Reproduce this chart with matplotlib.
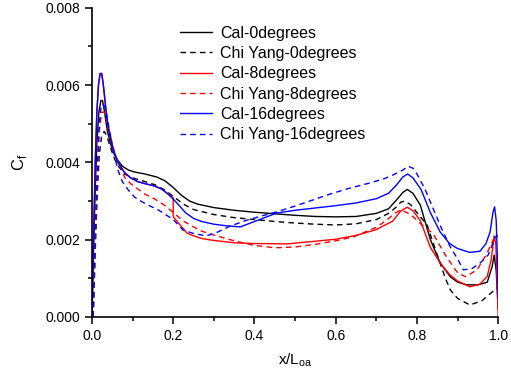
import matplotlib.pyplot as plt
from matplotlib.ticker import MultipleLocator, FormatStrFormatter

# skin friction along the hull, computed vs. Chi Yang reference
x_cal0 = [0, 0.004, 0.008, 0.012, 0.017, 0.022, 0.026, 0.031, 0.038, 0.048, 0.06, 0.075,
          0.09, 0.105, 0.13, 0.16, 0.18, 0.2, 0.22, 0.24, 0.26, 0.3, 0.35, 0.4, 0.45, 0.5,
          0.55, 0.6, 0.65, 0.7, 0.73, 0.75, 0.765, 0.776, 0.79, 0.808, 0.833, 0.857, 0.882,
          0.9, 0.923, 0.95, 0.973, 0.985, 0.99, 0.995, 1.0]
cf_cal0 = [0, 0.0018, 0.0033, 0.0045, 0.0053, 0.0056, 0.0056, 0.0053, 0.0048, 0.0044, 0.0041,
           0.0039, 0.0038, 0.00375, 0.0037, 0.00362, 0.00352, 0.00335, 0.00315, 0.003, 0.00292,
           0.00283, 0.00276, 0.00271, 0.00267, 0.00263, 0.0026, 0.00259, 0.0026, 0.00268,
           0.0028, 0.00303, 0.00322, 0.0033, 0.0032, 0.0029, 0.002, 0.0014, 0.00104, 0.0009,
           0.00083, 0.00083, 0.0009, 0.0013, 0.0016, 0.0012, 0.0002]

x_chi0 = [0.003, 0.008, 0.013, 0.018, 0.024, 0.03, 0.036, 0.045, 0.055, 0.065, 0.08, 0.1,
          0.125, 0.155, 0.18, 0.2, 0.225, 0.25, 0.3, 0.35, 0.4, 0.45, 0.5, 0.55, 0.6, 0.65,
          0.7, 0.73, 0.75, 0.76, 0.77, 0.785, 0.8, 0.825, 0.85, 0.87, 0.882, 0.9, 0.93, 0.96,
          0.98, 1.0]
cf_chi0 = [0, 0.0017, 0.0032, 0.0042, 0.0047, 0.0048, 0.0047, 0.0044, 0.0041, 0.0039, 0.0037,
           0.0036, 0.00352, 0.00342, 0.00328, 0.00312, 0.00292, 0.00278, 0.00265, 0.00257,
           0.00252, 0.00247, 0.00243, 0.0024, 0.00238, 0.00241, 0.00252, 0.00268, 0.00285,
           0.00297, 0.003, 0.0029, 0.0027, 0.00238, 0.0016, 0.001, 0.0007, 0.00048, 0.00031,
           0.00042, 0.0006, 0.00078]

x_cal8 = [0, 0.004, 0.008, 0.012, 0.016, 0.02, 0.024, 0.028, 0.034, 0.04, 0.05, 0.064, 0.08,
          0.095, 0.113, 0.13, 0.15, 0.17, 0.185, 0.2, 0.2, 0.217, 0.234, 0.25, 0.27, 0.3, 0.35,
          0.4, 0.48, 0.55, 0.6, 0.65, 0.7, 0.74, 0.76, 0.776, 0.79, 0.808, 0.833, 0.857, 0.88,
          0.9, 0.93, 0.955, 0.973, 0.983, 0.99, 0.994, 0.997, 1.0]
cf_cal8 = [0, 0.0021, 0.0040, 0.0053, 0.006, 0.0063, 0.0063, 0.006, 0.0054, 0.0049, 0.0044,
           0.004, 0.00374, 0.0036, 0.0035, 0.00345, 0.0034, 0.00332, 0.0032, 0.00308, 0.00259,
           0.00238, 0.00217, 0.0021, 0.00203, 0.00198, 0.00192, 0.0019, 0.00189, 0.00196,
           0.00201, 0.00211, 0.00226, 0.00248, 0.00274, 0.00284, 0.00275, 0.0025, 0.0018,
           0.0014, 0.0011, 0.00093, 0.00078, 0.00085, 0.00105, 0.0015, 0.0021, 0.0019, 0.001, 0]

x_chi8 = [0.003, 0.008, 0.013, 0.018, 0.024, 0.03, 0.036, 0.045, 0.057, 0.07, 0.081, 0.095,
          0.113, 0.13, 0.155, 0.18, 0.2, 0.225, 0.25, 0.27, 0.3, 0.35, 0.4, 0.45, 0.5, 0.55,
          0.6, 0.643, 0.7, 0.726, 0.745, 0.76, 0.775, 0.79, 0.81, 0.84, 0.87, 0.9, 0.92, 0.948,
          0.97, 0.988, 1.0]
cf_chi8 = [0, 0.002, 0.0037, 0.0048, 0.0053, 0.0053, 0.0051, 0.0047, 0.0042, 0.0039, 0.0036,
           0.00345, 0.00331, 0.00318, 0.00305, 0.00288, 0.0027, 0.00248, 0.00233, 0.00222,
           0.00212, 0.00197, 0.00185, 0.00179, 0.00181, 0.00188, 0.00197, 0.00207, 0.00232,
           0.00251, 0.00268, 0.00277, 0.0027, 0.0026, 0.0024, 0.00215, 0.0016, 0.00114,
           0.00104, 0.00122, 0.0016, 0.002, 0.0019]

x_cal16 = [0, 0.004, 0.008, 0.012, 0.016, 0.02, 0.024, 0.028, 0.034, 0.04, 0.05, 0.064, 0.08,
           0.095, 0.113, 0.13, 0.15, 0.17, 0.185, 0.2, 0.215, 0.23, 0.25, 0.27, 0.3, 0.33,
           0.365, 0.4, 0.455, 0.5, 0.55, 0.6, 0.65, 0.7, 0.73, 0.75, 0.765, 0.777, 0.79, 0.81,
           0.833, 0.857, 0.88, 0.9, 0.93, 0.955, 0.97, 0.98, 0.987, 0.991, 0.995, 0.998, 1.0]
cf_cal16 = [0, 0.0021, 0.0040, 0.0053, 0.006, 0.0063, 0.0063, 0.006, 0.0054, 0.0049, 0.0044,
            0.004, 0.00374, 0.0036, 0.0035, 0.00345, 0.0034, 0.00332, 0.0032, 0.00305, 0.00288,
            0.0027, 0.00255, 0.00247, 0.0024, 0.00236, 0.00233, 0.00247, 0.00269, 0.00276,
            0.00282, 0.00288, 0.00295, 0.00306, 0.0032, 0.00342, 0.00362, 0.0037, 0.0036,
            0.0033, 0.0027, 0.0022, 0.0019, 0.00177, 0.00167, 0.0017, 0.0019, 0.0022, 0.0027,
            0.00285, 0.0025, 0.0015, 0.0005]

x_chi16 = [0.003, 0.008, 0.013, 0.018, 0.023, 0.028, 0.033, 0.04, 0.049, 0.057, 0.064, 0.075,
           0.089, 0.105, 0.123, 0.143, 0.163, 0.184, 0.2, 0.224, 0.25, 0.28, 0.3, 0.34, 0.38,
           0.42, 0.455, 0.5, 0.55, 0.586, 0.63, 0.685, 0.72, 0.742, 0.765, 0.778, 0.79, 0.8,
           0.82, 0.84, 0.86, 0.882, 0.9, 0.914, 0.935, 0.956, 0.975, 0.993, 1.0]
cf_chi16 = [0, 0.0022, 0.0039, 0.005, 0.0055, 0.0055, 0.0054, 0.005, 0.0045, 0.0041, 0.0038,
            0.0035, 0.00329, 0.0031, 0.00298, 0.00287, 0.00277, 0.00263, 0.00252, 0.00225,
            0.00216, 0.0021, 0.00215, 0.00235, 0.0025, 0.00262, 0.00272, 0.00287, 0.00305,
            0.00318, 0.00332, 0.00347, 0.00358, 0.00368, 0.0038, 0.0039, 0.00385, 0.0037,
            0.0033, 0.0028, 0.0023, 0.00181, 0.0015, 0.00122, 0.00125, 0.0014, 0.0016,
            0.00207, 0.0021]

SERIES = [
    (x_cal0, cf_cal0, "k", "-", "Cal-0degrees"),
    (x_chi0, cf_chi0, "k", "--", "Chi Yang-0degrees"),
    (x_cal8, cf_cal8, "#ff0000", "-", "Cal-8degrees"),
    (x_chi8, cf_chi8, "#ff0000", "--", "Chi Yang-8degrees"),
    (x_cal16, cf_cal16, "#0000ff", "-", "Cal-16degrees"),
    (x_chi16, cf_chi16, "#0000ff", "--", "Chi Yang-16degrees"),
]

plt.rcParams["font.family"] = ["Liberation Sans", "DejaVu Sans"]

fig = plt.figure(figsize=(5.11, 3.72), dpi=100)
ax = fig.add_axes([0.18, 0.148, 0.795, 0.831])

for xs, ys, col, ls, lbl in SERIES:
    line, = ax.plot(xs, ys, color=col, lw=1.0, ls=ls, label=lbl)
    if ls == "--":
        line.set_dashes((4, 3))

ax.set_xlim(0, 1.0)
ax.set_ylim(0, 0.008)
ax.xaxis.set_major_locator(MultipleLocator(0.2))
ax.xaxis.set_minor_locator(MultipleLocator(0.1))
ax.yaxis.set_major_locator(MultipleLocator(0.002))
ax.yaxis.set_minor_locator(MultipleLocator(0.001))
ax.xaxis.set_major_formatter(FormatStrFormatter("%.1f"))
ax.yaxis.set_major_formatter(FormatStrFormatter("%.3f"))
ax.tick_params(which="major", direction="out", length=5, width=1.1, labelsize=10)
ax.tick_params(which="minor", direction="out", length=3, width=1.1)

for side in ("top", "right"):
    ax.spines[side].set_visible(False)
for side in ("left", "bottom"):
    ax.spines[side].set_linewidth(1.2)

ax.set_xlabel("x/L$_{\\mathregular{oa}}$", fontsize=11, labelpad=6)
ax.set_ylabel("C$_{\\mathregular{f}}$", fontsize=12, labelpad=12)

ax.legend(loc="upper left", bbox_to_anchor=(0.217, 0.942), frameon=False, fontsize=11.5,
          handlelength=2.0, handletextpad=0.5, labelspacing=0.33, borderaxespad=0,
          borderpad=0)

fig.savefig("out.png", dpi=100)
